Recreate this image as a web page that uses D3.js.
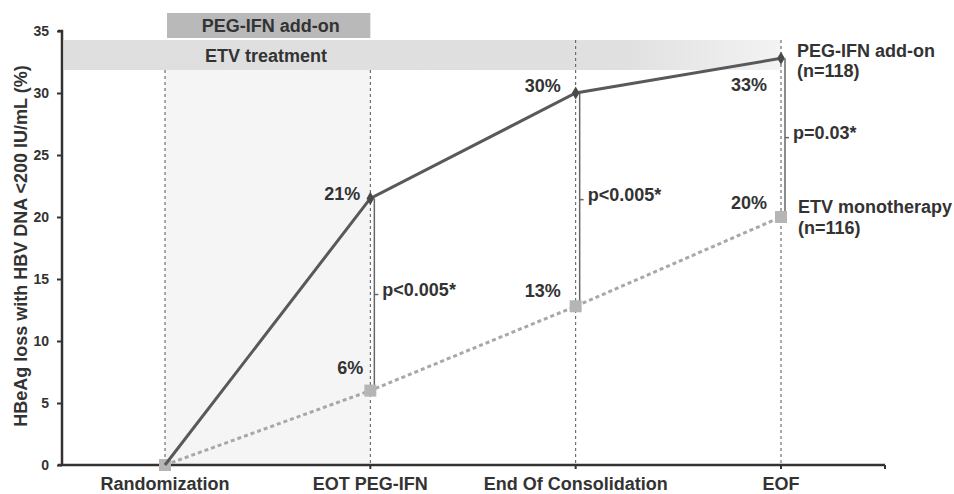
<!DOCTYPE html>
<html>
<head>
<meta charset="utf-8">
<script src="https://cdn.jsdelivr.net/npm/d3@7"></script>
<style>
  body { margin: 0; background: #fff; }
  svg text { font-family: "Liberation Sans", Arial, sans-serif; font-weight: bold; fill: #333; }
</style>
</head>
<body>
<svg id="chart" width="954" height="494"></svg>
<script>
const categories = ['Randomization', 'EOT PEG-IFN', 'End Of Consolidation', 'EOF'];
const pegValues = [0, 21.5, 30, 32.8];
const etvValues = [0, 6, 12.8, 20];
const pegLabels = ['', '21%', '30%', '33%'];
const etvLabels = ['', '6%', '13%', '20%'];
const pValues = ['', 'p<0.005*', 'p<0.005*', 'p=0.03*'];
const yTicks = [0, 5, 10, 15, 20, 25, 30, 35];

// label placement relative to each point [dx, dy]
const pegLabelOffset = [[0, 0], [-10, 2], [-15, -1], [-14, 33]];
const etvLabelOffset = [[0, 0], [-7, -17], [-15, -9], [-14, -8]];

const svg = d3.select('#chart');
const plotLeft = 62, plotRight = 885, plotTop = 31, plotBottom = 465;
const fs = '18px';

const x = d3.scalePoint().domain(categories).range([165, 781]);
const y = d3.scaleLinear().domain([0, 35]).range([plotBottom, plotTop]);

// gradient for ETV band
const defs = svg.append('defs');
const grad = defs.append('linearGradient').attr('id', 'etvGrad');
grad.append('stop').attr('offset', '0%').attr('stop-color', '#dedede');
grad.append('stop').attr('offset', '78%').attr('stop-color', '#e0e0e0');
grad.append('stop').attr('offset', '100%').attr('stop-color', '#f3f3f3');

// shaded PEG-IFN period
svg.append('rect')
    .attr('x', x(categories[0])).attr('y', 70)
    .attr('width', x(categories[1]) - x(categories[0]))
    .attr('height', plotBottom - 70)
    .attr('fill', '#f5f5f5');

// treatment bands
svg.append('rect')
    .attr('x', plotLeft + 2).attr('y', 40)
    .attr('width', x(categories[3]) - plotLeft - 2).attr('height', 30)
    .attr('fill', 'url(#etvGrad)');
svg.append('text')
    .attr('x', 266).attr('y', 62)
    .attr('text-anchor', 'middle')
    .style('font-size', fs)
    .text('ETV treatment');

svg.append('rect')
    .attr('x', x(categories[0]) + 2).attr('y', 13)
    .attr('width', x(categories[1]) - x(categories[0]) - 2).attr('height', 25)
    .attr('fill', '#b9b9b9');
svg.append('text')
    .attr('x', (x(categories[0]) + x(categories[1])) / 2 + 3).attr('y', 32)
    .attr('text-anchor', 'middle')
    .style('font-size', fs)
    .text('PEG-IFN add-on');

// dashed verticals
svg.selectAll('.vline')
    .data(categories)
    .enter()
    .append('line')
    .attr('x1', d => x(d)).attr('x2', d => x(d))
    .attr('y1', (d, i) => i < 2 ? 70 : 40)
    .attr('y2', plotBottom)
    .attr('stroke', '#555')
    .attr('stroke-width', 1)
    .attr('stroke-dasharray', '3,3');

// axes
const yAxis = svg.append('g')
    .attr('transform', `translate(${plotLeft},0)`)
    .call(d3.axisLeft(y).tickValues(yTicks).tickSize(5).tickPadding(8));
yAxis.select('.domain').attr('stroke', '#333').attr('stroke-width', 2.5).attr('d', `M-4,${plotTop}H0V${plotBottom}`);
yAxis.selectAll('.tick line').attr('stroke', '#333').attr('stroke-width', 2);
yAxis.selectAll('.tick text')
    .style('font-size', '14px')
    .style('font-family', '"Liberation Sans", Arial, sans-serif')
    .style('font-weight', 'bold')
    .attr('fill', '#333');

svg.append('line')
    .attr('x1', plotLeft - 4).attr('x2', plotRight)
    .attr('y1', plotBottom).attr('y2', plotBottom)
    .attr('stroke', '#333').attr('stroke-width', 2.5);
svg.append('line')
    .attr('x1', plotRight).attr('x2', plotRight)
    .attr('y1', plotBottom).attr('y2', plotBottom + 4)
    .attr('stroke', '#333').attr('stroke-width', 2);

svg.selectAll('.xtick')
    .data(categories.slice(1))
    .enter()
    .append('line')
    .attr('x1', d => x(d)).attr('x2', d => x(d))
    .attr('y1', plotBottom).attr('y2', plotBottom + 4)
    .attr('stroke', '#333').attr('stroke-width', 2);

svg.selectAll('.xlabel')
    .data(categories)
    .enter()
    .append('text')
    .attr('x', d => x(d)).attr('y', 490)
    .attr('text-anchor', 'middle')
    .style('font-size', fs)
    .text(d => d);

svg.append('text')
    .attr('transform', 'translate(27,246) rotate(-90)')
    .attr('text-anchor', 'middle')
    .style('font-size', fs)
    .text('HBeAg loss with HBV DNA <200 IU/mL (%)');

// p-value connectors
for (let i = 1; i < categories.length; i++) {
    const cx = x(categories[i]) + 4;
    svg.append('line')
        .attr('x1', cx).attr('x2', cx)
        .attr('y1', y(pegValues[i])).attr('y2', y(etvValues[i]))
        .attr('stroke', '#666').attr('stroke-width', 1.5);
    const my = (y(pegValues[i]) + y(etvValues[i])) / 2;
    svg.append('line')
        .attr('x1', cx).attr('x2', cx + 4)
        .attr('y1', my).attr('y2', my)
        .attr('stroke', '#666').attr('stroke-width', 1.5);
    svg.append('text')
        .attr('x', cx + 8).attr('y', my + 1)
        .style('font-size', fs)
        .text(pValues[i]);
}

// ETV line
const line = d3.line().x((d, i) => x(categories[i])).y(d => y(d));
svg.append('path')
    .datum(etvValues)
    .attr('d', line)
    .attr('fill', 'none')
    .attr('stroke', '#a8a8a8')
    .attr('stroke-width', 3)
    .attr('stroke-dasharray', '4,3');

svg.selectAll('.etvPt')
    .data(etvValues)
    .enter()
    .append('rect')
    .attr('x', (d, i) => x(categories[i]) - 6)
    .attr('y', d => y(d) - 6)
    .attr('width', 12).attr('height', 12)
    .attr('fill', '#b5b5b5');

// PEG-IFN line
svg.append('path')
    .datum(pegValues)
    .attr('d', line)
    .attr('fill', 'none')
    .attr('stroke', '#595959')
    .attr('stroke-width', 3);

svg.selectAll('.pegPt')
    .data(pegValues.slice(1))
    .enter()
    .append('path')
    .attr('d', d3.symbol().type(d3.symbolDiamond).size(50))
    .attr('transform', (d, i) => `translate(${x(categories[i + 1])},${y(d)})`)
    .attr('fill', '#4a4a4a');

// value labels
svg.selectAll('.pegLbl')
    .data(pegValues)
    .enter()
    .append('text')
    .attr('x', (d, i) => x(categories[i]) + pegLabelOffset[i][0])
    .attr('y', (d, i) => y(d) + pegLabelOffset[i][1])
    .attr('text-anchor', 'end')
    .style('font-size', fs)
    .text((d, i) => pegLabels[i]);

svg.selectAll('.etvLbl')
    .data(etvValues)
    .enter()
    .append('text')
    .attr('x', (d, i) => x(categories[i]) + etvLabelOffset[i][0])
    .attr('y', (d, i) => y(d) + etvLabelOffset[i][1])
    .attr('text-anchor', 'end')
    .style('font-size', fs)
    .text((d, i) => etvLabels[i]);

// series names
const lx = 797;
svg.append('text').attr('x', lx).attr('y', 57).style('font-size', fs).text('PEG-IFN add-on');
svg.append('text').attr('x', lx).attr('y', 77).style('font-size', fs).text('(n=118)');
svg.append('text').attr('x', lx + 1).attr('y', 213).style('font-size', fs).text('ETV monotherapy');
svg.append('text').attr('x', lx + 1).attr('y', 234).style('font-size', fs).text('(n=116)');
</script>
</body>
</html>
